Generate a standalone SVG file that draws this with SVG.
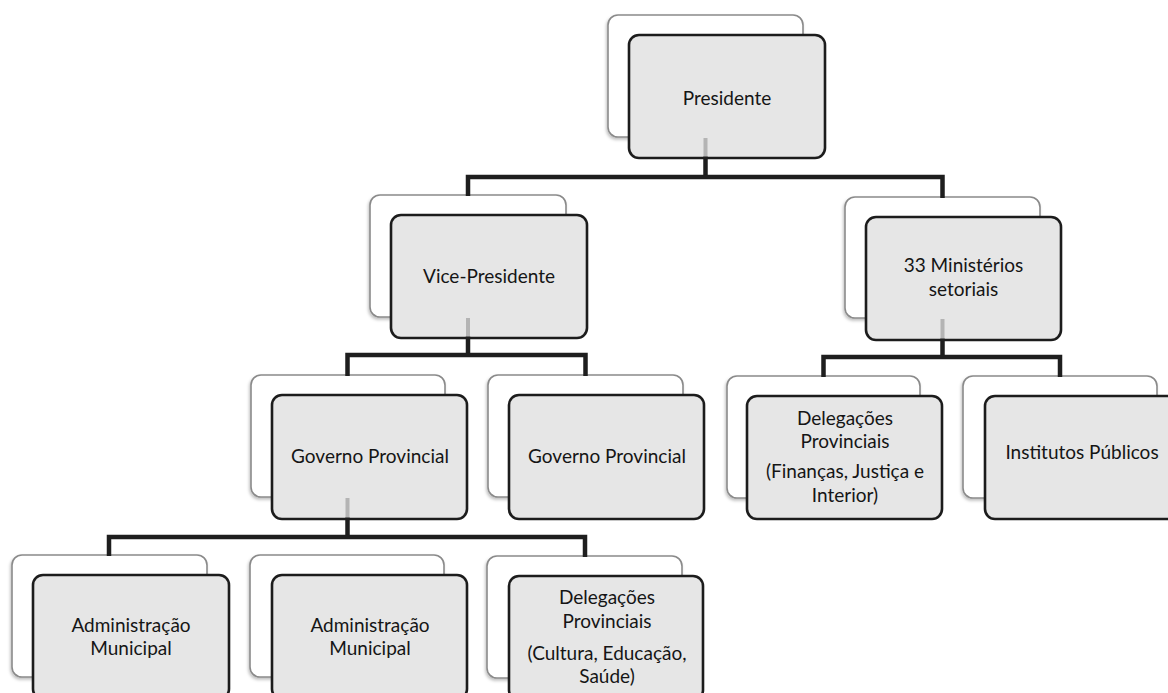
<svg xmlns="http://www.w3.org/2000/svg" width="1168" height="693" viewBox="0 0 1168 693">
<style>
.back{fill:#ffffff;stroke:#8a8a8a;stroke-width:1.6}
.front{fill:#e6e6e6;stroke:#1c1c1c;stroke-width:2.6}
.conn{fill:none;stroke:#1e1e1e;stroke-width:4.5;stroke-linejoin:miter;stroke-linecap:butt}
.stub{fill:none;stroke:#b4b4b4;stroke-width:4}
text{font-family:Lato,"Open Sans","Liberation Sans",sans-serif;font-size:19px;fill:#151515;text-anchor:middle}
</style>
<defs>
<filter id="sh" x="-10%" y="-10%" width="120%" height="120%">
<feDropShadow dx="-1" dy="2" stdDeviation="1.5" flood-color="#000" flood-opacity="0.25"/>
</filter>
</defs>
<rect width="1168" height="693" fill="#ffffff"/>
<g id="presidente">
<rect class="back" filter="url(#sh)" x="608" y="15" width="195" height="122" rx="10"/>
<rect class="front" x="629" y="35" width="196" height="123" rx="10"/>
<text x="727" y="105">Presidente</text>
</g>
<g id="vice-presidente">
<rect class="back" filter="url(#sh)" x="370" y="195" width="196" height="122" rx="10"/>
<rect class="front" x="391" y="215" width="196" height="123" rx="10"/>
<text x="489" y="283">Vice-Presidente</text>
</g>
<g id="ministerios">
<rect class="back" filter="url(#sh)" x="845" y="197" width="195" height="121" rx="10"/>
<rect class="front" x="866" y="217" width="195" height="123" rx="10"/>
<text x="963.5" y="272">33 Ministérios</text>
<text x="963.5" y="296">setoriais</text>
</g>
<g id="governo-provincial-1">
<rect class="back" filter="url(#sh)" x="251" y="375" width="194" height="122" rx="10"/>
<rect class="front" x="272" y="395" width="195" height="124" rx="10"/>
<text x="370" y="463">Governo Provincial</text>
</g>
<g id="governo-provincial-2">
<rect class="back" filter="url(#sh)" x="488" y="375" width="195" height="122" rx="10"/>
<rect class="front" x="509" y="395" width="195" height="124" rx="10"/>
<text x="607" y="463">Governo Provincial</text>
</g>
<g id="delegacoes-financas">
<rect class="back" filter="url(#sh)" x="727" y="376" width="193" height="122" rx="10"/>
<rect class="front" x="747" y="396" width="195" height="123" rx="10"/>
<text x="845" y="425">Delegações</text>
<text x="845" y="448">Provinciais</text>
<text x="845" y="478">(Finanças, Justiça e</text>
<text x="845" y="502">Interior)</text>
</g>
<g id="institutos-publicos">
<rect class="back" filter="url(#sh)" x="963" y="376" width="194" height="122" rx="10"/>
<rect class="front" x="985" y="396" width="196" height="123" rx="10"/>
<text x="1082" y="459">Institutos Públicos</text>
</g>
<g id="administracao-municipal-1">
<rect class="back" filter="url(#sh)" x="12" y="555" width="195" height="122" rx="10"/>
<rect class="front" x="33" y="575" width="196" height="124" rx="10"/>
<text x="131" y="632">Administração</text>
<text x="131" y="655">Municipal</text>
</g>
<g id="administracao-municipal-2">
<rect class="back" filter="url(#sh)" x="250" y="555" width="194" height="122" rx="10"/>
<rect class="front" x="272" y="575" width="195" height="124" rx="10"/>
<text x="370" y="632">Administração</text>
<text x="370" y="655">Municipal</text>
</g>
<g id="delegacoes-cultura">
<rect class="back" filter="url(#sh)" x="487" y="556" width="195" height="122" rx="10"/>
<rect class="front" x="509" y="576" width="194" height="124" rx="10"/>
<text x="607" y="604">Delegações</text>
<text x="607" y="628">Provinciais</text>
<text x="607" y="660">(Cultura, Educação,</text>
<text x="607" y="683">Saúde)</text>
</g>
<g id="connectors">
<path class="stub" d="M705.5,138 V156"/>
<path class="conn" d="M705.5,156.5 V177"/>
<path class="conn" d="M468,196 V177 H942.5 V198"/>
<path class="stub" d="M468,318 V336"/>
<path class="conn" d="M468,336.5 V355"/>
<path class="conn" d="M347.5,376 V355 H585.5 V376"/>
<path class="stub" d="M942.5,319 V338"/>
<path class="conn" d="M942.5,338.5 V357"/>
<path class="conn" d="M823.5,377 V357 H1060 V377"/>
<path class="stub" d="M347.5,498 V517"/>
<path class="conn" d="M347.5,517.5 V537"/>
<path class="conn" d="M109,556 V537 H585 V557"/>
</g>
</svg>
